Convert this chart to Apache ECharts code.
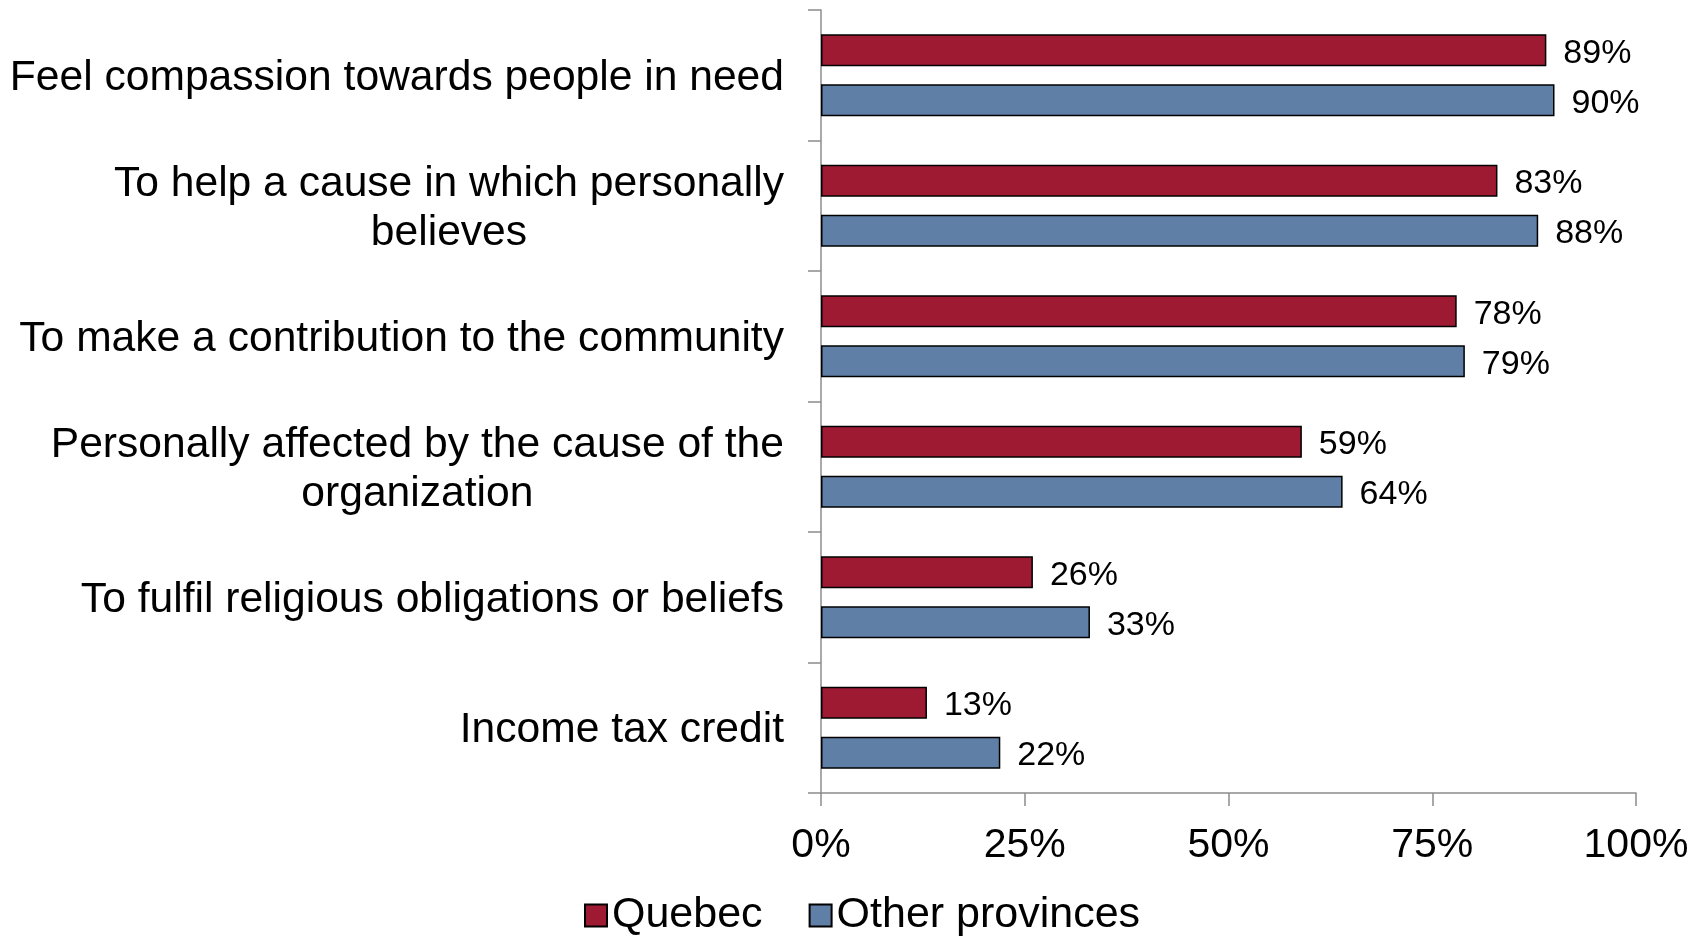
<!DOCTYPE html>
<html>
<head>
<meta charset="utf-8">
<script src="https://cdn.jsdelivr.net/npm/echarts@6/dist/echarts.min.js"></script>
<style>
  html, body { margin: 0; padding: 0; background: #fff; }
  #chart { width: 1708px; height: 938px; }
</style>
</head>
<body>
<div id="chart"></div>
<script>
// Reasons for giving, Quebec vs. other provinces (share of donors, %)
const categories = [
  'Feel compassion towards people in need',
  'To help a cause in which personally\nbelieves',
  'To make a contribution to the community',
  'Personally affected by the cause of the\norganization',
  'To fulfil religious obligations or beliefs',
  'Income tax credit'
];
const quebec = [89, 83, 78, 59, 26, 13];
const otherProvinces = [90, 88, 79, 64, 33, 22];
const xTicks = [0, 25, 50, 75, 100];

const FONT = '"Liberation Sans", Arial, sans-serif';
const AXIS_GREY = '#8c8c8c';

const chart = echarts.init(document.getElementById('chart'), null, { renderer: 'canvas' });

const barLabel = {
  show: true,
  position: 'right',
  distance: 17,
  offset: [0, 3],
  fontFamily: FONT,
  fontSize: 34,
  color: '#000',
  formatter: p => p.value + '%'
};

chart.setOption({
  animation: false,
  backgroundColor: '#fff',
  grid: { left: 821, right: 72, top: 10, bottom: 145, containLabel: false },
  legend: {
    left: 579,
    top: 889,
    icon: 'rect',
    itemWidth: 22,
    itemHeight: 22,
    itemGap: 46,
    textStyle: { fontFamily: FONT, fontSize: 43, color: '#000' },
    data: ['Quebec', 'Other provinces']
  },
  xAxis: {
    type: 'value',
    min: xTicks[0],
    max: xTicks[xTicks.length - 1],
    interval: xTicks[1] - xTicks[0],
    splitLine: { show: false },
    axisLine: { show: true, lineStyle: { color: AXIS_GREY, width: 1.5 } },
    axisTick: { show: true, length: 13, lineStyle: { color: AXIS_GREY, width: 1.5 } },
    axisLabel: {
      margin: 32,
      fontFamily: FONT,
      fontSize: 41,
      color: '#000',
      formatter: v => v + '%'
    }
  },
  yAxis: {
    type: 'category',
    inverse: true,
    data: categories,
    axisLine: { show: true, lineStyle: { color: AXIS_GREY, width: 1.5 } },
    axisTick: { show: true, length: 13, alignWithLabel: false, lineStyle: { color: AXIS_GREY, width: 1.5 } },
    axisLabel: {
      margin: 37,
      padding: [5, 0, 0, 0],
      fontFamily: FONT,
      fontSize: 42.6,
      color: '#000',
      lineHeight: 49,
      align: 'right',
      formatter: v => v.split('\n').map(l => '{c|' + l + '}').join('\n'),
      rich: {
        c: { align: 'center', fontFamily: FONT, fontSize: 42.6, lineHeight: 49, color: '#000' }
      }
    }
  },
  series: [
    {
      name: 'Quebec',
      type: 'bar',
      data: quebec,
      barWidth: 32,
      barGap: '56%',
      itemStyle: { color: '#9E1A33', borderColor: '#000', borderWidth: 1.5 },
      label: barLabel
    },
    {
      name: 'Other provinces',
      type: 'bar',
      data: otherProvinces,
      barWidth: 32,
      barGap: '56%',
      itemStyle: { color: '#5F7FA6', borderColor: '#000', borderWidth: 1.5 },
      label: barLabel
    }
  ]
});
</script>
</body>
</html>
